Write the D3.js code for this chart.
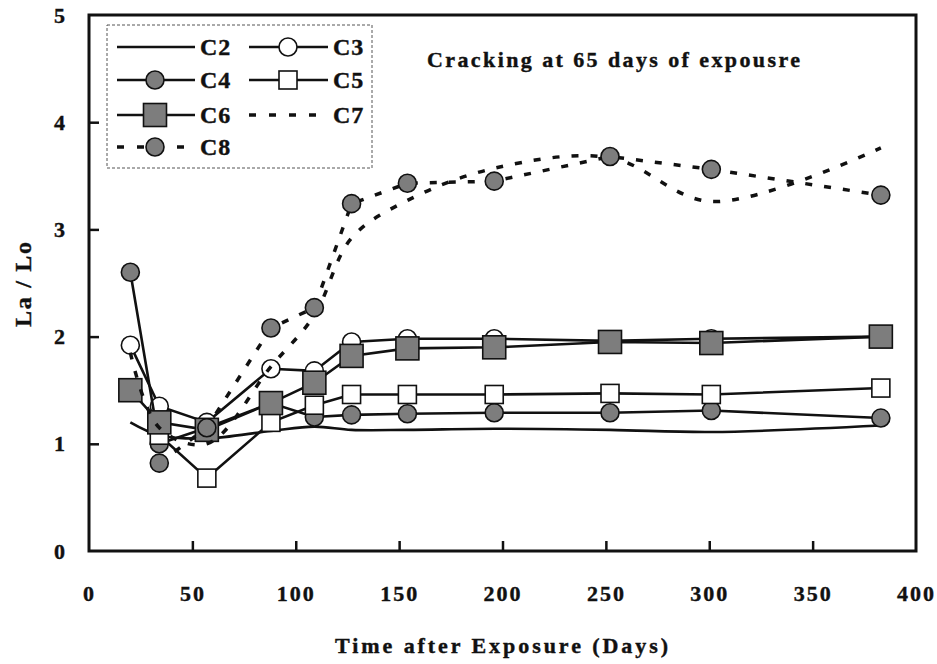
<!DOCTYPE html>
<html lang="en">
<head>
<meta charset="UTF-8">
<title>La / Lo vs time after exposure</title>
<script src="https://d3js.org/d3.v7.min.js"></script>
<style>
    body { margin: 0; background: #fff; }
    svg text { font-family: "Liberation Serif", "Times New Roman", serif; font-weight: bold; fill: #111; stroke: #111; stroke-width: 0.4px; }
    .axis .domain { display: none; }
    .axis line { stroke: #111; stroke-width: 2.5; }
    .axis text { font-size: 22px; letter-spacing: 2px; }
</style>
</head>
<body>
<svg width="937" height="664"></svg>
<script>
    // sampling days (x) and La/Lo of each series, null = no reading
    const days = [20, 34, 57, 88, 109, 127, 154, 196, 252, 301, 383];
    const c2 = [1.20, 1.08, 1.05, 1.12, 1.16, 1.13, 1.13, 1.14, 1.13, 1.11, 1.17];
    const c3 = [1.92, 1.35, 1.20, 1.70, 1.68, 1.95, 1.98, 1.98, 1.96, 1.98, 2.00];
    const c4 = [2.60, 1.00, 1.15, 1.38, 1.25, 1.27, 1.28, 1.29, 1.29, 1.31, 1.24];
    const c5 = [null, 1.08, 0.68, 1.20, 1.36, 1.46, 1.46, 1.46, 1.47, 1.46, 1.52];
    const c6 = [1.50, 1.20, 1.13, 1.38, 1.57, 1.82, 1.89, 1.90, 1.95, 1.94, 2.00];
    const c7 = [1.85, 1.15, 1.00, 1.72, 2.20, 2.92, 3.27, 3.57, 3.67, 3.26, 3.76];
    const c8 = [null, 0.82, 1.15, 2.08, 2.27, 3.24, 3.43, 3.45, 3.68, 3.56, 3.32];

    const xTicks = [0, 50, 100, 150, 200, 250, 300, 350, 400];
    const yTicks = [0, 1, 2, 3, 4, 5];

    const GRAY = "#7d7d7d";
    const series = [
        {name: "C2", values: c2, marker: null, dashed: false, smooth: true},
        {name: "C3", values: c3, marker: "circle", fill: "#fff", dashed: false},
        {name: "C4", values: c4, marker: "circle", fill: GRAY, dashed: false},
        {name: "C5", values: c5, marker: "square", fill: "#fff", size: 18, dashed: false},
        {name: "C6", values: c6, marker: "square", fill: GRAY, size: 23, dashed: false},
        {name: "C7", values: c7, marker: null, dashed: true, smooth: true},
        {name: "C8", values: c8, marker: "circle", fill: GRAY, dashed: true}
    ];

    const svg = d3.select("svg");
    const plot = {left: 89, right: 916, top: 15, bottom: 551};

    const x = d3.scaleLinear().domain([0, 400]).range([plot.left, plot.right]);
    const y = d3.scaleLinear().domain([0, 5]).range([plot.bottom, plot.top]);

    // axes (ticks point inward)
    svg.append("g")
        .attr("class", "axis")
        .attr("transform", `translate(0,${plot.bottom})`)
        .call(d3.axisBottom(x).tickValues(xTicks).tickFormat(d3.format("d"))
            .tickSize(-10).tickPadding(34));
    svg.append("g")
        .attr("class", "axis")
        .attr("transform", `translate(${plot.left},0)`)
        .call(d3.axisLeft(y).tickValues(yTicks).tickFormat(d3.format("d"))
            .tickSize(-10).tickPadding(22));

    svg.selectAll(".axis .tick")
        .filter(d => d === 0 || d === 400 || d === 5)
        .select("line").remove();

    function drawMarker(g, s, cx, cy) {
        if (s.marker === "circle") {
            g.append("circle")
                .attr("cx", cx).attr("cy", cy).attr("r", 9)
                .attr("fill", s.fill).attr("stroke", "#111").attr("stroke-width", 1.6);
        } else if (s.marker === "square") {
            g.append("rect")
                .attr("x", cx - s.size / 2).attr("y", cy - s.size / 2)
                .attr("width", s.size).attr("height", s.size)
                .attr("fill", s.fill).attr("stroke", "#111").attr("stroke-width", 1.6);
        }
    }

    // series: line then markers, in order
    series.forEach(s => {
        const pts = days.map((d, i) => ({day: d, v: s.values[i]})).filter(p => p.v != null);
        const line = d3.line()
            .x(p => x(p.day))
            .y(p => y(p.v))
            .curve(s.smooth ? d3.curveCatmullRom.alpha(0.5) : d3.curveLinear);
        const g = svg.append("g");
        g.append("path")
            .datum(pts)
            .attr("d", line)
            .attr("fill", "none")
            .attr("stroke", "#111")
            .attr("stroke-width", s.dashed ? 3.5 : 2.6)
            .attr("stroke-dasharray", s.dashed ? "7,12" : null);
        pts.forEach(p => drawMarker(g, s, x(p.day), y(p.v)));
    });

    // frame
    svg.append("rect")
        .attr("x", plot.left).attr("y", plot.top)
        .attr("width", plot.right - plot.left).attr("height", plot.bottom - plot.top)
        .attr("fill", "none").attr("stroke", "#111").attr("stroke-width", 3);

    // legend
    const legend = svg.append("g");
    legend.append("rect")
        .attr("x", 107).attr("y", 25).attr("width", 265).attr("height", 143)
        .attr("fill", "#fff").attr("stroke", "#555").attr("stroke-width", 1)
        .attr("stroke-dasharray", "3,2");
    const slots = [
        {x0: 117, x1: 195, mx: 155, tx: 200},
        {x0: 249, x1: 328, mx: 288, tx: 333}
    ];
    const rowY = [47, 80, 115, 147];
    series.forEach((s, i) => {
        const slot = slots[i % 2], ry = rowY[Math.floor(i / 2)];
        legend.append("line")
            .attr("x1", slot.x0).attr("x2", slot.x1).attr("y1", ry).attr("y2", ry)
            .attr("stroke", "#111")
            .attr("stroke-width", s.dashed ? 3.5 : 2.6)
            .attr("stroke-dasharray", s.dashed ? "7,13" : null);
        drawMarker(legend, s, slot.mx, ry);
        legend.append("text")
            .attr("x", slot.tx).attr("y", ry + 8)
            .style("font-size", "24px")
            .style("letter-spacing", "1px")
            .text(s.name);
    });

    // annotation and axis titles
    svg.append("text")
        .attr("x", 427).attr("y", 67)
        .attr("textLength", 373).attr("lengthAdjust", "spacing")
        .style("font-size", "22px")
        .text("Cracking at 65 days of expousre");

    svg.append("text")
        .attr("x", 335).attr("y", 653)
        .attr("textLength", 333).attr("lengthAdjust", "spacing")
        .style("font-size", "22px")
        .text("Time after Exposure (Days)");

    svg.append("text")
        .attr("transform", "translate(31,327) rotate(-90)")
        .attr("textLength", 85).attr("lengthAdjust", "spacing")
        .style("font-size", "24px")
        .text("La / Lo");
</script>
</body>
</html>
